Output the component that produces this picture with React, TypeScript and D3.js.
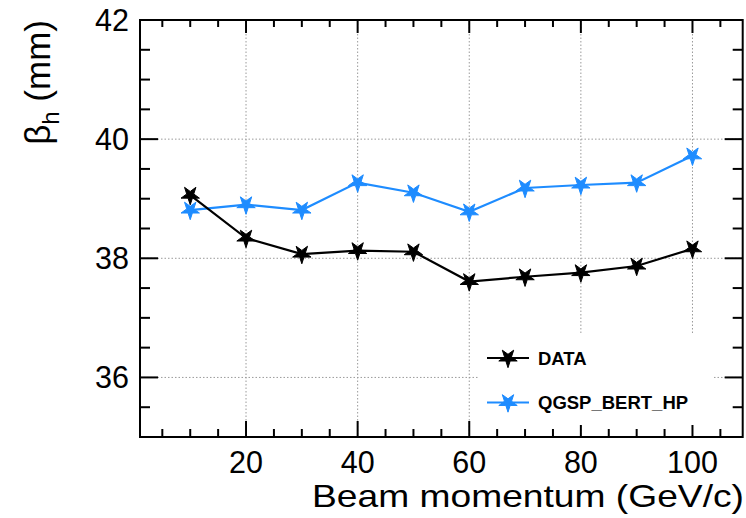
import React from "react";
import * as d3 from "d3";

const momentum = [10, 20, 30, 40, 50, 60, 70, 80, 90, 100];
const dataBeta = [39.06, 38.34, 38.07, 38.13, 38.11, 37.61, 37.69, 37.76, 37.87, 38.16];
const simBeta = [38.81, 38.9, 38.81, 39.27, 39.1, 38.78, 39.18, 39.23, 39.27, 39.72];
const xMajorTicks = [20, 40, 60, 80, 100];
const yMajorTicks = [36, 38, 40, 42];
const seriesNames = ["DATA", "QGSP_BERT_HP"];

const W = 746;
const H = 518;
const L = 140, R = 742.7, T = 20, B = 437;
const BLUE = "#1e8cff";
const FONT = "'Liberation Sans', Arial, Helvetica, sans-serif";

export default function App() {
  const x = d3.scaleLinear().domain([1, 109]).range([L, R]);
  const y = d3.scaleLinear().domain([35, 42]).range([B, T]);
  const xMinor = d3.range(5, 106, 5);
  const yMinor = d3.range(35, 42.01, 0.5);
  const star = d3.symbol(d3.symbolStar, 105)() as string;
  const line = d3.line<number>().x((_, i) => x(momentum[i])).y((d) => y(d));

  const series = [
    { name: seriesNames[1], vals: simBeta, color: BLUE },
    { name: seriesNames[0], vals: dataBeta, color: "#000" },
  ];

  const legend = [
    { name: seriesNames[0], color: "#000", ly: 358, ty: 364.5 },
    { name: seriesNames[1], color: BLUE, ly: 402.5, ty: 408.5 },
  ];

  return (
    <svg width={W} height={H} style={{ position: "absolute", left: 0, top: 0, background: "#fff" }}>
      <rect x={0} y={0} width={W} height={H} fill="#fff" />
      {/* grid */}
      <g stroke="#9a9a9a" strokeWidth={1} strokeDasharray="1.5,2">
        {xMajorTicks.map((t) => (
          <line key={"gx" + t} x1={x(t)} x2={x(t)} y1={T} y2={B} />
        ))}
        {yMajorTicks.filter((t) => t < 42).map((t) => (
          <line key={"gy" + t} x1={L} x2={R} y1={y(t)} y2={y(t)} />
        ))}
      </g>
      {/* ticks */}
      <g stroke="#000" strokeWidth={2}>
        {xMinor.map((t) => {
          const major = t % 20 === 0;
          const len = major ? 16 : 8;
          return (
            <g key={"tx" + t}>
              <line x1={x(t)} x2={x(t)} y1={B} y2={B - len} />
              <line x1={x(t)} x2={x(t)} y1={T} y2={T + (major ? 13 : 7)} />
            </g>
          );
        })}
        {yMinor.map((t) => {
          const major = Math.abs(t % 2) < 1e-6;
          const len = major ? 18 : 10;
          return (
            <g key={"ty" + t}>
              <line x1={L} x2={L + len} y1={y(t)} y2={y(t)} />
              <line x1={R} x2={R - len} y1={y(t)} y2={y(t)} />
            </g>
          );
        })}
      </g>
      {/* frame */}
      <rect x={L} y={T} width={R - L} height={B - T} fill="none" stroke="#000" strokeWidth={2} />
      {/* tick labels */}
      <g fontFamily={FONT} fontSize={30.5} fill="#000">
        {xMajorTicks.map((t) => (
          <text key={"lx" + t} x={x(t)} y={473} textAnchor="middle">
            {t}
          </text>
        ))}
        {yMajorTicks.map((t) => (
          <text key={"ly" + t} x={129} y={y(t) + 11} textAnchor="end">
            {t}
          </text>
        ))}
      </g>
      {/* axis titles */}
      <text
        x={744}
        y={507}
        textAnchor="end"
        fontFamily={FONT}
        fontSize={32}
        textLength={432}
        lengthAdjust="spacingAndGlyphs"
      >
        Beam momentum (GeV/c)
      </text>
      <text
        transform="translate(50,20) rotate(-90)"
        textAnchor="end"
        fontFamily={FONT}
        fontSize={35}
      >
        β<tspan fontSize={24} dy={9}>h</tspan>
        <tspan dy={-9}> (mm)</tspan>
      </text>
      {/* series */}
      {series.map((s) => (
        <g key={s.name}>
          <path d={line(s.vals) as string} fill="none" stroke={s.color} strokeWidth={2.2} />
          {s.vals.map((v, i) => (
            <path
              key={i}
              d={star}
              fill={s.color}
              stroke={s.color}
              strokeWidth={1}
              strokeLinejoin="round"
              transform={`translate(${x(momentum[i])},${y(v)}) rotate(180)`}
            />
          ))}
        </g>
      ))}
      {/* legend */}
      <rect x={478} y={335} width={235} height={90} fill="#fff" />
      {legend.map((e) => (
        <g key={e.name}>
          <line x1={487} x2={529} y1={e.ly} y2={e.ly} stroke={e.color} strokeWidth={2.2} />
          <path
            d={star}
            fill={e.color}
            stroke={e.color}
            strokeWidth={1}
            strokeLinejoin="round"
            transform={`translate(508,${e.ly}) rotate(180)`}
          />
          <text x={538} y={e.ty} fontFamily={FONT} fontWeight="bold" fontSize={18.5} fill="#000">
            {e.name}
          </text>
        </g>
      ))}
    </svg>
  );
}
